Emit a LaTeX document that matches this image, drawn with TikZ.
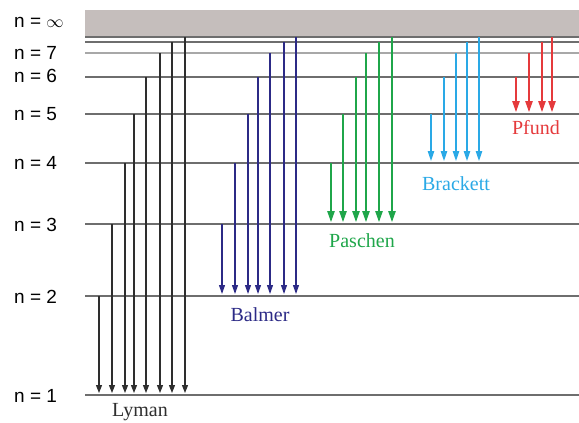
\documentclass[tikz,border=0pt]{standalone}
\usepackage{fontspec}
\setmainfont{Liberation Serif}
\setsansfont{Liberation Sans}
\usetikzlibrary{arrows.meta}
\definecolor{lvlgray}{HTML}{6E6E6E}
\definecolor{bandgray}{HTML}{C5BEBC}
\definecolor{lymanc}{HTML}{2E2E2E}
\definecolor{balmerc}{HTML}{2C2A86}
\definecolor{paschenc}{HTML}{1FA64A}
\definecolor{brackettc}{HTML}{2AA9E6}
\definecolor{pfundc}{HTML}{E53A3C}
\tikzset{
  level/.style={draw=lvlgray,line width=1.3pt},
  lvllabel/.style={anchor=west,inner sep=0pt,font=\sffamily\fontsize{19}{19}\selectfont},
  trans/.style={-{Triangle[length=8pt,width=6pt]},line width=1.1pt,shorten >=2pt},
  bigtip/.style={-{Triangle[length=11pt,width=7.5pt]}},
  series/.style={font=\fontsize{20}{20}\selectfont}
}

\begin{document}
\begin{tikzpicture}[x=1pt,y=-1pt]
    \useasboundingbox (0,0) rectangle (579,423);
    % ionisation band
    \fill[bandgray] (85,10) rectangle (579,36);
    % levels
    \coordinate (einf) at (85,37);
    \coordinate (e8) at (85,42);
    \coordinate (e7) at (85,53);
    \coordinate (e6) at (85,77);
    \coordinate (e5) at (85,114);
    \coordinate (e4) at (85,163);
    \coordinate (e3) at (85,224);
    \coordinate (e2) at (85,296);
    \coordinate (e1) at (85,395);
    \foreach \s in {inf,8,6,5,4,3,2,1}
      \draw[level] (e\s) -- (579,0 |- e\s);
    \draw[level,draw=lvlgray!60,line width=1.8pt] (e7) -- (579,0 |- e7);
    \node[lvllabel] (linf) at (14,22) {n = $\infty$};
    \node[lvllabel] (l7) at (14,53) {n = 7};
    \node[lvllabel] (l6) at (14,76) {n = 6};
    \node[lvllabel] (l5) at (14,114) {n = 5};
    \node[lvllabel] (l4) at (14,163) {n = 4};
    \node[lvllabel] (l3) at (14,225) {n = 3};
    \node[lvllabel] (l2) at (14,297) {n = 2};
    \node[lvllabel] (l1) at (14,396) {n = 1};
    % series
    \foreach \x/\s in {99/2,112/3,125/4,134/5,146/6,160/7,172/8,185/inf}
      \draw[trans,lymanc] (\x,0 |- e\s) -- (\x,0 |- e1);
    \foreach \x/\s in {222/3,235/4,248/5,258/6,270/7,284/8,296/inf}
      \draw[trans,balmerc,-{Triangle[length=9pt,width=6pt]}] (\x,0 |- e\s) -- (\x,0 |- e2);
    \foreach \x/\s in {331/4,343/5,356/6,366/7,379/8,392/inf}
      \draw[trans,bigtip,paschenc] (\x,0 |- e\s) -- (\x,0 |- e3);
    \foreach \x/\s in {431/5,444/6,456/7,467/8,479/inf}
      \draw[trans,brackettc,-{Triangle[length=10pt,width=6.5pt]}] (\x,0 |- e\s) -- (\x,0 |- e4);
    \foreach \x/\s in {516/6,529/7,542/8,552/inf}
      \draw[trans,bigtip,pfundc] (\x,0 |- e\s) -- (\x,0 |- e5);
    \node[series,lymanc] (lyman) at (140,412) {Lyman};
    \node[series,balmerc] (balmer) at (260,315) {Balmer};
    \node[series,paschenc] (paschen) at (362,241) {Paschen};
    \node[series,brackettc] (brackett) at (456,184) {Brackett};
    \node[series,pfundc] (pfund) at (536,128) {Pfund};
  \end{tikzpicture}
\end{document}
